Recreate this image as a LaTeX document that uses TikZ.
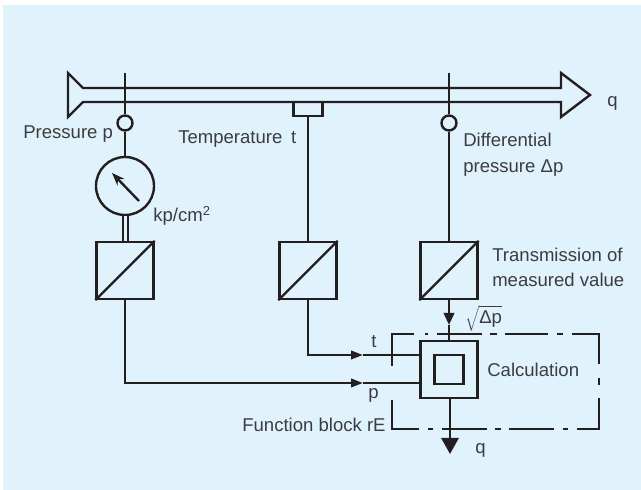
\documentclass[tikz,border=0pt]{standalone}
\usepackage{fontspec}
\setmainfont{Liberation Sans}
\usetikzlibrary{positioning,arrows.meta}
\definecolor{panel}{RGB}{224,243,253}
\definecolor{ink}{RGB}{35,31,32}
\definecolor{lab}{RGB}{60,60,62}

\begin{document}
\begin{tikzpicture}[
  >={Triangle[length=3mm,width=2.1mm]},
  wire/.style={line width=0.06cm,ink},
  conv/.style={rectangle,draw=ink,line width=0.06cm,minimum size=1.425cm,inner sep=0pt},
  tap/.style={circle,draw=ink,line width=0.06cm,fill=panel,minimum size=0.375cm,inner sep=0pt},
  txt/.style={anchor=base west,inner sep=0pt,text=lab,font=\fontsize{13.2}{15}\selectfont}
]
  \useasboundingbox (0,0) rectangle (16.025,12.25);
  \fill[panel] (0.075,0) rectangle (16.025,12.125);

  % ---------- Pipe ----------
  \draw[wire,miter limit=4] (2.075,10.05) -- (1.7,10.425) -- (1.7,9.325) -- (2.075,9.7)
    -- (14.025,9.7) -- (14.025,9.325) -- (14.75,9.875) -- (14.025,10.425) -- (14.025,10.05) -- cycle;

  % ---------- Measuring points and converters ----------
  \coordinate (ptop) at (3.125,10.425);
  \coordinate (dtop) at (11.225,10.425);
  \node[tap] (ptap) at (3.125,9.175) {};
  \node[tap] (dtap) at (11.225,9.175) {};
  \node[rectangle,draw=ink,line width=0.06cm,minimum width=0.725cm,minimum height=0.35cm,inner sep=0pt]
    (tstub) at (7.7,9.525) {};
  \node[circle,draw=ink,line width=0.06cm,minimum size=1.45cm,inner sep=0pt] (gauge) at (3.125,7.6) {};
  \node[conv] (pconv) at (3.125,5.4875) {};
  \node[conv] (tconv) at (7.7,5.4875) {};
  \node[conv] (dconv) at (11.225,5.4875) {};

  \foreach \c in {pconv,tconv,dconv}
    \draw[wire] (\c.south west) -- (\c.north east);

  \draw[wire] (ptop) -- (ptap);
  \draw[wire] (ptap) -- (gauge);
  \draw[wire] (dtop) -- (dtap);
  \draw[wire] (dtap) -- (dconv);
  \draw[wire] (tstub) -- (tconv);
  \draw[line width=0.05cm,ink,double=panel,double distance=0.075cm] (gauge) -- (pconv);

  % needle
  \coordinate (nfoot) at (3.475,7.225);
  \coordinate (ntip) at (2.8,7.925);
  \draw[wire,->,>={Stealth[length=3.2mm,width=2.4mm]}] (nfoot) -- (ntip);

  % ---------- Function block ----------
  \node[conv] (calc) at (11.225,3.0125) {};
  \node[rectangle,draw=ink,line width=0.06cm,minimum size=0.725cm,inner sep=0pt] (core) at (11.225,3.0125) {};
  \draw[wire,dash pattern=on 1.35cm off .275cm on .075cm off .225cm on 1.125cm off .2cm on .175cm off .2cm
      on 1.075cm off .225cm on .15cm off .225cm on 1.425cm off .35cm on .175cm off .325cm
      on 1.325cm off .225cm on .125cm off .225cm on 1.125cm off .2cm on .15cm off .2cm
      on 1.125cm off .225cm on .125cm off .225cm on 1.4cm off 1cm]
    (9.8,3.1) -- (9.8,3.9) -- (14.975,3.9) -- (14.975,1.525) -- (9.8,1.525) -- (9.8,2.275);

  \coordinate (tpin) at (9.075,3.375);
  \coordinate (ppin) at (9.075,2.675);
  \coordinate (dpin) at (11.225,4.125);
  \coordinate (qout) at (11.25,0.9);
  \draw[wire,->] (tconv) |- (tpin);
  \draw[wire] (tpin) -- (calc.west |- tpin);
  \draw[wire,->] (pconv) |- (ppin);
  \draw[wire] (ppin) -- (calc.west |- ppin);
  \draw[wire,->,>={Triangle[length=3mm,width=2.6mm]}] (dconv) -- (dpin);
  \draw[wire] (dpin) -- (calc);
  \draw[wire,->,>={Triangle[length=4mm,width=4.3mm]}] (calc.south -| qout) -- (qout);

  % ---------- Labels ----------
  \node[txt] (lpress) at (0.575,8.775) {Pressure p};
  \node[txt] (ltemp) at (4.45,8.65) {Temperature\hspace{0.22cm}t};
  \node[txt] (ldiff) at (11.575,8.575) {Differential};
  \node[txt] (ldiffb) at (11.575,7.925) {pressure Δp};
  \node[txt] (lqpipe) at (15.175,9.575) {q};
  \node[txt] (lkp) at (3.825,6.7) {kp/cm\textsuperscript{2}};
  \node[txt] (ltrans) at (12.3,5.7) {Transmission of};
  \node[txt] (ltransb) at (12.3,5.075) {measured value};
  \node[txt] (lroot) at (11.625,4.15) {$\sqrt{\mbox{Δp}}$};
  \node[txt] (lt) at (9.275,3.55) {t};
  \node[txt] (lp) at (9.2,2.275) {p};
  \node[txt] (lcalc) at (12.175,2.825) {Calculation};
  \node[txt] (lblock) at (6.05,1.45) {Function block rE};
  \node[txt] (lqout) at (11.875,0.9) {q};
\end{tikzpicture}
\end{document}
